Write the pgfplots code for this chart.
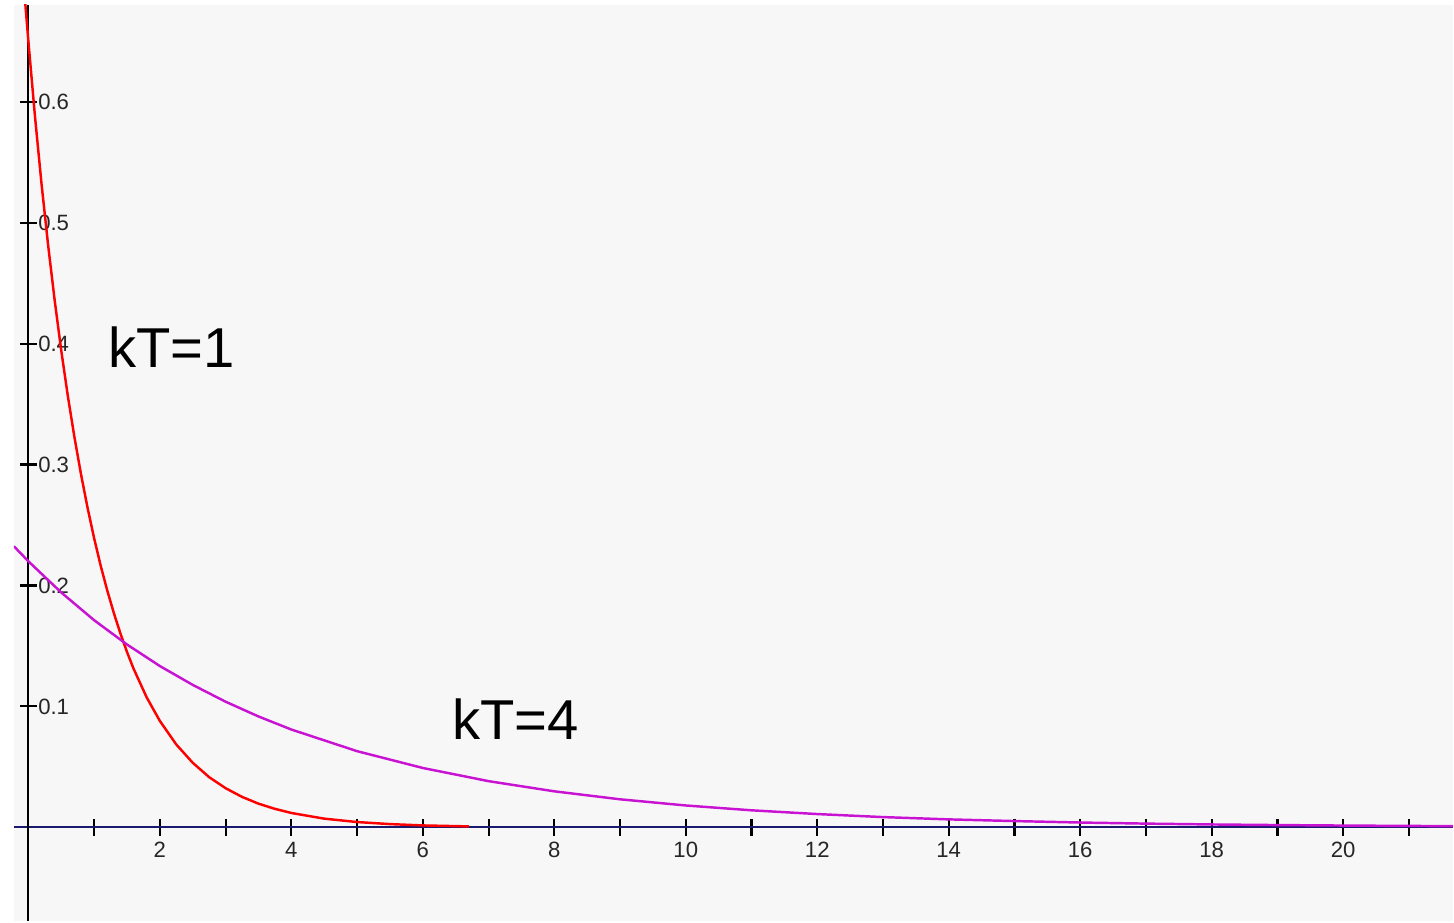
\documentclass[border=0pt]{standalone}
\usepackage{pgfplots}
\pgfplotsset{compat=1.18}
\usepackage{fontspec}
\setmainfont{Liberation Sans}
\definecolor{bg}{RGB}{247,247,247}
\definecolor{navy}{RGB}{25,25,110}
\definecolor{curvered}{RGB}{255,0,0}
\definecolor{curvepurple}{RGB}{200,20,210}
\begin{document}
\begin{tikzpicture}
\begin{axis}[
  scale only axis, width=144mm, height=91.7mm,
  xmin=-0.219, xmax=21.67, ymin=-0.0777, ymax=0.680,
  axis lines=middle, axis line style={-, line width=0.6pt},
  x axis line style={navy}, y axis line style={black},
  axis background/.style={fill=bg},
  xtick={1,...,21},
  xticklabels={,2,,4,,6,,8,,10,,12,,14,,16,,18,,20,},
  ytick={0.1,0.2,0.3,0.4,0.5,0.6},
  yticklabels={0.1,0.2,0.3,0.4,0.5,0.6},
  tick align=center, major tick length=1.7mm,
  tick style={black, line width=0.6pt},
  /pgf/number format/assume math mode=true,
  tick label style={font=\fontsize{6.3}{7}\selectfont, text=black!85},
  xticklabel style={anchor=north, yshift=0.6mm},
  yticklabel style={anchor=west, xshift=0.6mm},
  clip=true,
]
\addplot[curvered, line width=0.7pt] coordinates {
(-0.05,0.683) (0,0.650) (0.1,0.588) (0.2,0.532) (0.3,0.4815) (0.4,0.4357)
(0.5,0.3942) (0.6,0.3567) (0.7,0.3228) (0.8,0.2921) (0.9,0.2643) (1.0,0.2391)
(1.1,0.2163) (1.2,0.1958) (1.3,0.1772) (1.4,0.1603) (1.5,0.1450) (1.6,0.1312)
(1.8,0.1074) (2.0,0.0880) (2.25,0.0685) (2.5,0.0534) (2.75,0.0415) (3.0,0.0324)
(3.25,0.0252) (3.5,0.0196) (3.75,0.0153) (4.0,0.0119) (4.5,0.0072) (5.0,0.0044)
(5.5,0.0027) (6.0,0.0016) (6.7,0.0008)
};
\addplot[curvepurple, line width=0.7pt] coordinates {
(-0.22,0.2324) (0,0.2200) (0.5,0.1942) (1,0.1713) (1.5,0.1512) (2,0.1334)
(2.5,0.1178) (3,0.1039) (3.5,0.0917) (4,0.0809) (5,0.0630) (6,0.0491)
(7,0.0382) (8,0.0298) (9,0.0232) (10,0.0181) (11,0.0141) (12,0.0110)
(13,0.0085) (14,0.0066) (15,0.0052) (16,0.0040) (17,0.0031) (18,0.0024)
(19,0.0019) (20,0.0015) (21,0.0012) (21.67,0.0010)
};
\node[font=\fontsize{16}{19}\selectfont] at (axis cs:2.18,0.397) {kT=1};
\node[font=\fontsize{16}{19}\selectfont] at (axis cs:7.41,0.0893) {kT=4};
\end{axis}
\path ([xshift=-1.4mm,yshift=0.5mm]current axis.north west) rectangle (current axis.south east);
\end{tikzpicture}
\end{document}
